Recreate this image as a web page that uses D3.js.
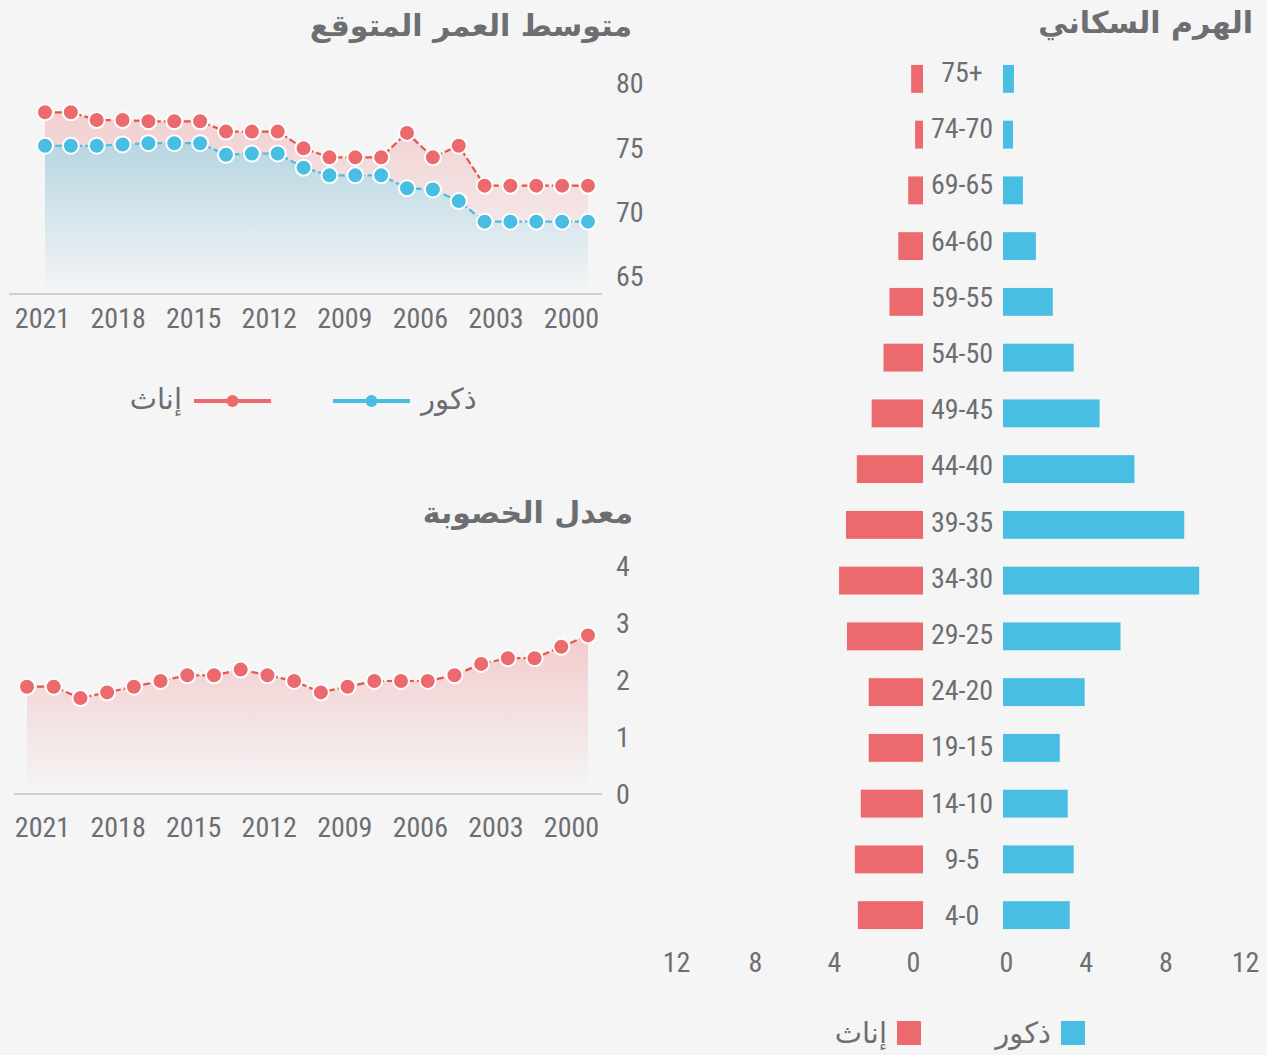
<!DOCTYPE html>
<html lang="ar">
<head>
<meta charset="utf-8">
<script src="https://cdn.jsdelivr.net/npm/d3@7"></script>
<style>
  body { margin: 0; background: #f5f5f5; }
  svg { display: block; }
  .num { font-family: "Liberation Sans Narrow", "Roboto Condensed", "DejaVu Sans Condensed", sans-serif; fill: #6d6e71; font-size: 28px; }
  .ar { font-family: "DejaVu Sans", sans-serif; fill: #6d6e71; }
  .title { font-weight: bold; font-size: 30px; }
</style>
</head>
<body>
<svg id="chart" width="1267" height="1055"></svg>
<script>
// ---- data ----
var years = [2021, 2020, 2019, 2018, 2017, 2016, 2015, 2014, 2013, 2012, 2011,
             2010, 2009, 2008, 2007, 2006, 2005, 2004, 2003, 2002, 2001, 2000];
var yearTicks = [2021, 2018, 2015, 2012, 2009, 2006, 2003, 2000];

// life expectancy (females / males)
var lifeFemale = [77.8, 77.8, 77.2, 77.2, 77.1, 77.1, 77.1, 76.3, 76.3, 76.3, 75.0,
                  74.3, 74.3, 74.3, 76.2, 74.3, 75.2, 72.1, 72.1, 72.1, 72.1, 72.1];
var lifeMale   = [75.2, 75.2, 75.2, 75.3, 75.4, 75.4, 75.4, 74.5, 74.6, 74.6, 73.5,
                  72.9, 72.9, 72.9, 71.9, 71.8, 70.9, 69.3, 69.3, 69.3, 69.3, 69.3];
var lifeTicks = [80, 75, 70, 65];

// fertility rate
var fertility = [1.9, 1.9, 1.7, 1.8, 1.9, 2.0, 2.1, 2.1, 2.2, 2.1, 2.0,
                 1.8, 1.9, 2.0, 2.0, 2.0, 2.1, 2.3, 2.4, 2.4, 2.6, 2.8];
var fertTicks = [4, 3, 2, 1, 0];

// population pyramid (%)
var ageGroups = ["75+", "74-70", "69-65", "64-60", "59-55", "54-50", "49-45", "44-40",
                 "39-35", "34-30", "29-25", "24-20", "19-15", "14-10", "9-5", "4-0"];
var popFemale = [0.6, 0.4, 0.75, 1.25, 1.7, 2.0, 2.6, 3.35, 3.9, 4.25, 3.85, 2.75, 2.75, 3.15, 3.45, 3.3];
var popMale   = [0.55, 0.5, 1.0, 1.65, 2.5, 3.55, 4.85, 6.6, 9.1, 9.85, 5.9, 4.1, 2.85, 3.25, 3.55, 3.35];
var popTicks = [0, 4, 8, 12];

var RED = '#ec6a6e', RED_LINE = '#e4574a', BLUE = '#48bee2', GRID = '#cfcfcf';

var svg = d3.select('#chart');
var defs = svg.append('defs');

function addGradient(id, top, bottom) {
  var g = defs.append('linearGradient').attr('id', id)
    .attr('x1', 0).attr('y1', 0).attr('x2', 0).attr('y2', 1);
  g.append('stop').attr('offset', '0%').attr('stop-color', top);
  g.append('stop').attr('offset', '100%').attr('stop-color', bottom);
}
addGradient('gRed', '#f2cfd0', '#f5f5f5');
addGradient('gBlue', '#b7d6e2', '#f3f4f5');
addGradient('gFert', '#f3cbcd', '#f4f4f4');

// strip the axis down to its labels
function cleanAxis(g) {
  g.select('.domain').remove();
  g.selectAll('line').remove();
  g.selectAll('text').attr('class', 'num').attr('fill', null);
  g.attr('font-family', null).attr('font-size', null);
}

var xLabel = d3.scalePoint().domain(years).range([42, 571]);

function yearAxis(y) {
  svg.append('g')
    .attr('transform', 'translate(0,' + y + ')')
    .call(d3.axisBottom(xLabel).tickValues(yearTicks).tickSize(0).tickPadding(0).tickFormat(d3.format('d')))
    .call(cleanAxis);
}

function drawLine(g, data, x, y, lineColor, dotColor) {
  var line = d3.line().x(function (d, i) { return x(years[i]); }).y(function (d) { return y(d); });
  g.append('path').datum(data)
    .attr('d', line)
    .attr('fill', 'none')
    .attr('stroke', lineColor)
    .attr('stroke-width', 2.2)
    .attr('stroke-dasharray', '7,3');
  g.selectAll(null).data(data).enter().append('circle')
    .attr('cx', function (d, i) { return x(years[i]); })
    .attr('cy', function (d) { return y(d); })
    .attr('r', 8)
    .attr('fill', dotColor)
    .attr('stroke', '#fff')
    .attr('stroke-width', 2);
}

/* ---------- life expectancy ---------- */
var lifeG = svg.append('g');
var xLife = d3.scalePoint().domain(years).range([45, 588]);
var yLife = d3.scaleLinear().domain([65, 80]).range([277, 84]);

function lifeArea(data) {
  return d3.area()
    .x(function (d, i) { return xLife(years[i]); })
    .y0(288)
    .y1(function (d) { return yLife(d); })(data);
}
lifeG.append('path').attr('d', lifeArea(lifeFemale)).attr('fill', 'url(#gRed)');
lifeG.append('path').attr('d', lifeArea(lifeMale)).attr('fill', 'url(#gBlue)');
lifeG.append('line').attr('x1', 9).attr('x2', 602).attr('y1', 294).attr('y2', 294)
  .attr('stroke', GRID).attr('stroke-width', 2);
drawLine(lifeG, lifeMale, xLife, yLife, BLUE, BLUE);
drawLine(lifeG, lifeFemale, xLife, yLife, RED_LINE, RED);

svg.append('g').attr('transform', 'translate(616,0)')
  .call(d3.axisRight(yLife).tickValues(lifeTicks).tickSize(0).tickPadding(0))
  .call(cleanAxis);
yearAxis(308);

svg.append('text').attr('class', 'ar title')
  .attr('x', 632).attr('y', 36).attr('text-anchor', 'end')
  .text('متوسط العمر المتوقع');

// legend (lines with dots)
var legTop = svg.append('g');
[{ label: 'ذكور', color: BLUE, x0: 333, x1: 410, tx: 421, anchor: 'start' },
 { label: 'إناث', color: RED, x0: 194, x1: 271, tx: 182, anchor: 'end' }].forEach(function (d) {
  legTop.append('line').attr('x1', d.x0).attr('x2', d.x1).attr('y1', 401).attr('y2', 401)
    .attr('stroke', d.color).attr('stroke-width', 4);
  legTop.append('circle').attr('cx', (d.x0 + d.x1) / 2).attr('cy', 401).attr('r', 6).attr('fill', d.color);
  legTop.append('text').attr('class', 'ar').attr('font-size', 29)
    .attr('x', d.tx).attr('y', 409)
    .attr('text-anchor', d.anchor)
    .text(d.label);
});

/* ---------- fertility ---------- */
var fertG = svg.append('g');
var xFert = d3.scalePoint().domain(years).range([27, 588]);
var yFert = d3.scaleLinear().domain([0, 4]).range([795, 567]);

fertG.append('path')
  .attr('d', d3.area()
    .x(function (d, i) { return xFert(years[i]); })
    .y0(790)
    .y1(function (d) { return yFert(d); })(fertility))
  .attr('fill', 'url(#gFert)');
fertG.append('line').attr('x1', 14).attr('x2', 602).attr('y1', 794).attr('y2', 794)
  .attr('stroke', GRID).attr('stroke-width', 2);
drawLine(fertG, fertility, xFert, yFert, RED_LINE, RED);

svg.append('g').attr('transform', 'translate(616,0)')
  .call(d3.axisRight(yFert).tickValues(fertTicks).tickSize(0).tickPadding(0).tickFormat(d3.format('d')))
  .call(cleanAxis);
yearAxis(817);

svg.append('text').attr('class', 'ar title')
  .attr('x', 633).attr('y', 523).attr('text-anchor', 'end')
  .text('معدل الخصوبة');

/* ---------- population pyramid ---------- */
var pyr = svg.append('g');
var yBand = d3.scaleBand().domain(ageGroups).range([51, 943]).paddingInner(0.5).paddingOuter(0.25);
var yAgeLabel = d3.scalePoint().domain(ageGroups).range([72, 915]);
var xF = d3.scaleLinear().domain([0, 12]).range([923, 686]);
var xM = d3.scaleLinear().domain([0, 12]).range([1003, 1242]);

pyr.selectAll('.barF').data(popFemale).enter().append('rect')
  .attr('class', 'barF')
  .attr('x', function (d) { return xF(d); })
  .attr('y', function (d, i) { return yBand(ageGroups[i]); })
  .attr('width', function (d) { return xF(0) - xF(d); })
  .attr('height', yBand.bandwidth())
  .attr('fill', RED);

pyr.selectAll('.barM').data(popMale).enter().append('rect')
  .attr('class', 'barM')
  .attr('x', xM(0))
  .attr('y', function (d, i) { return yBand(ageGroups[i]); })
  .attr('width', function (d) { return xM(d) - xM(0); })
  .attr('height', yBand.bandwidth())
  .attr('fill', BLUE);

pyr.selectAll('.age').data(ageGroups).enter().append('text')
  .attr('class', 'num age')
  .attr('x', 962)
  .attr('y', function (d) { return yAgeLabel(d); })
  .attr('dy', '0.36em')
  .attr('text-anchor', 'middle')
  .text(function (d) { return d; });

svg.append('g').attr('transform', 'translate(-10,952)')
  .call(d3.axisBottom(xF).tickValues(popTicks).tickSize(0).tickPadding(0))
  .call(cleanAxis);
svg.append('g').attr('transform', 'translate(3,952)')
  .call(d3.axisBottom(xM).tickValues(popTicks).tickSize(0).tickPadding(0))
  .call(cleanAxis);

svg.append('text').attr('class', 'ar title')
  .attr('x', 1253).attr('y', 33).attr('text-anchor', 'end')
  .text('الهرم السكاني');

// legend (squares)
var legBot = svg.append('g');
[{ label: 'ذكور', color: BLUE, x: 1061 },
 { label: 'إناث', color: RED, x: 897 }].forEach(function (d) {
  legBot.append('rect').attr('x', d.x).attr('y', 1021).attr('width', 24).attr('height', 24).attr('fill', d.color);
  legBot.append('text').attr('class', 'ar').attr('font-size', 29)
    .attr('x', d.x - 10).attr('y', 1043)
    .attr('text-anchor', 'end')
    .text(d.label);
});
</script>
</body>
</html>
